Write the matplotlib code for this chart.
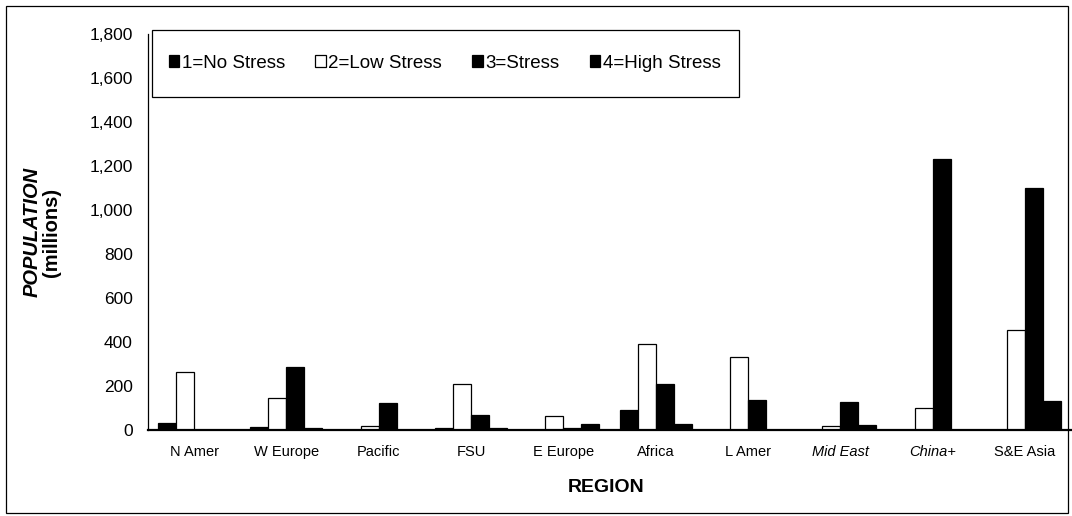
#!/usr/bin/env python3

import numpy as np
import matplotlib
matplotlib.use('Agg')

import matplotlib.pyplot as plt
from matplotlib.patches import Rectangle, Patch

plt.rcParams['font.family'] = ['Liberation Sans', 'DejaVu Sans']

regions = ["N Amer", "W Europe", "Pacific", "FSU", "E Europe",
           "Africa", "L Amer", "Mid East", "China+", "S&E Asia"]
no_stress = [33, 15, 0, 8, 0, 92, 2, 2, 0, 0]
low_stress = [264, 147, 18, 210, 62, 392, 332, 17, 102, 455]
stress = [0, 288, 124, 68, 10, 208, 138, 126, 1232, 1100]
high_stress = [0, 8, 2, 10, 28, 28, 2, 23, 0, 132]
series_names = ["1=No Stress", "2=Low Stress", "3=Stress", "4=High Stress"]
yticks = np.arange(0, 2000, 200)


def main():
    W, H = 1072, 516
    fig = plt.figure(figsize=(W / 100, H / 100), dpi=100)

    # axes box in pixel terms: x 148..1071, y 34..430
    ax = fig.add_axes([148 / W, 1 - 430 / H, (1071 - 148) / W, (430 - 34) / H])

    ind = np.arange(len(regions))
    width = 0.195
    series = [no_stress, low_stress, stress, high_stress]
    fills = ["black", "white", "black", "black"]
    for i, (vals, fc) in enumerate(zip(series, fills)):
        ax.bar(ind + (i - 1.5) * width, vals, width, color=fc,
               edgecolor="black", linewidth=0.9)

    ax.set_xlim(-0.5, len(regions) - 0.5)
    ax.set_ylim(0, 1800)
    ax.set_yticks(yticks)
    ax.set_yticklabels([f"{v:,}" for v in yticks], fontsize=12.5)
    ax.set_xticks(ind)
    ax.set_xticklabels(regions, fontsize=10.5)
    for lbl in ax.get_xticklabels():
        if lbl.get_text() in ("Mid East", "China+"):
            lbl.set_style("italic")
    ax.tick_params(axis="both", length=0)
    ax.tick_params(axis="y", pad=11)
    ax.tick_params(axis="x", pad=11)

    for side in ("top", "right"):
        ax.spines[side].set_visible(False)
    ax.spines["left"].set_linewidth(0.9)
    ax.spines["bottom"].set_linewidth(1.6)

    # axis titles
    fig.text(606 / W, 1 - 488 / H, "REGION", ha="center", va="center",
             fontsize=14, fontweight="bold")
    fig.text(32 / W, 1 - 232 / H, "POPULATION", ha="center", va="center",
             rotation=90, fontsize=14.5, fontweight="bold", style="italic")
    fig.text(52 / W, 1 - 232 / H, "(millions)", ha="center", va="center",
             rotation=90, fontsize=14.5, fontweight="bold")

    # legend entries in one row
    handles = [Patch(facecolor=fc, edgecolor="black", linewidth=0.9)
               for fc in fills]
    ly0, ly1 = 30, 97
    leg = fig.legend(handles, series_names, loc="center left",
                     bbox_to_anchor=(169 / W, 1 - (ly0 + ly1) / 2 / H),
                     ncol=4, frameon=False, fontsize=13.5, borderpad=0,
                     borderaxespad=0, handlelength=0.55, handleheight=0.6,
                     handletextpad=0.15, columnspacing=1.6)
    leg.set_zorder(4)

    # plain rectangular frame sized round the legend
    fig.canvas.draw()
    bb = leg.get_window_extent()
    lx0, lx1 = 152, bb.x1 + 18
    fig.patches.append(Rectangle((lx0 / W, 1 - ly1 / H), (lx1 - lx0) / W,
                                 (ly1 - ly0) / H, transform=fig.transFigure,
                                 facecolor="white", edgecolor="black",
                                 linewidth=0.9, zorder=3))

    # outer border round the whole chart
    fig.patches.append(Rectangle((6 / W, 1 - 513 / H), (1068 - 6) / W,
                                 (513 - 6) / H, transform=fig.transFigure,
                                 facecolor="none", edgecolor="black",
                                 linewidth=0.9))

    fig.savefig("out.png", dpi=100)


if __name__ == "__main__":
    main()
